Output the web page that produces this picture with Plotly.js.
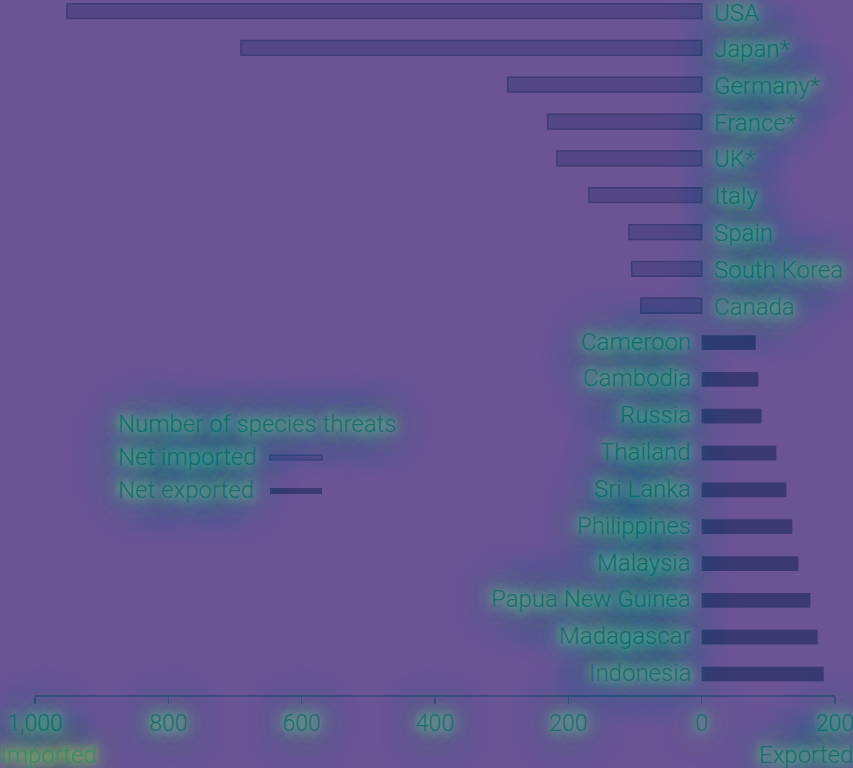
<!DOCTYPE html>
<html>
<head>
<meta charset="utf-8">
<script src="https://cdn.plot.ly/plotly-3.0.1.min.js"></script>
<style>
html,body{margin:0;padding:0;background:#6b5494;}
#chart{width:853px;height:768px;}
</style>
</head>
<body>
<div id="chart"></div>
<script>
// Data
const importCountries = ["USA","Japan*","Germany*","France*","UK*","Italy","Spain","South Korea","Canada"];
const importValues = [952, 691, 291, 231, 217, 169, 109, 105, 91];
const exportCountries = ["Cameroon","Cambodia","Russia","Thailand","Sri Lanka","Philippines","Malaysia","Papua New Guinea","Madagascar","Indonesia"];
const exportValues = [81, 85, 90, 112, 127, 136, 145, 163, 174, 183];
const tickValues = [-1000, -800, -600, -400, -200, 0, 200];
const tickLabels = ["1,000","800","600","400","200","0","200"];

const allCats = importCountries.concat(exportCountries);
const FONT = "Roboto, 'Liberation Sans', Arial, sans-serif";
const TEXT = "#216a6e";
const GLOW = "0 0 8px #64ca89, 0 0 16px #5ec68a, 0 0 26px #57be8d, 0 0 38px #51b291, 0 0 52px #4ca098, 0 0 70px #488c9e";
const GLOW_Y = "0 0 8px #a8d84c, 0 0 16px #96d256, 0 0 26px #80cb66, 0 0 38px #66bf78, 0 0 52px #55a98c, 0 0 70px #4a90a0";
const W = 300;

const traces = [
  {
    type: "bar", orientation: "h",
    y: importCountries, x: importValues.map(v => -v),
    marker: {color: "rgba(55,55,115,0.45)", line: {color: "#3f3c72", width: 1.5}},
    width: 0.4, hoverinfo: "skip", showlegend: false
  },
  {
    type: "bar", orientation: "h",
    y: exportCountries, x: exportValues,
    marker: {color: "#3b3a70", line: {width: 0}},
    width: 0.4, hoverinfo: "skip", showlegend: false
  }
];

const annotations = [];
importCountries.forEach((c, i) => annotations.push({
  x: 0, y: c, xref: "x", yref: "y", text: c, showarrow: false,
  xanchor: "left", xshift: 10, yshift: i === 0 ? -2 : -1,
  font: {family: FONT, size: 24, color: TEXT, weight: W, shadow: GLOW}
}));
exportCountries.forEach(c => annotations.push({
  x: 0, y: c, xref: "x", yref: "y", text: c, showarrow: false,
  xanchor: "right", xshift: -9, yshift: 1,
  font: {family: FONT, size: 24, color: TEXT, weight: W, shadow: GLOW}
}));
// legend
const legendItems = [
  {text: "Number of species threats", y: 424},
  {text: "Net imported", y: 457},
  {text: "Net exported", y: 490}
];
legendItems.forEach(it => annotations.push({
  xref: "paper", yref: "paper", x: (116 - 35) / 800, y: (695 - it.y) / 695,
  xanchor: "left", yanchor: "middle", showarrow: false, text: it.text,
  font: {family: FONT, size: 24, color: TEXT, weight: W, shadow: GLOW}
}));
// axis end labels
annotations.push({
  xref: "paper", yref: "paper", x: -37 / 800, y: (695 - 755) / 695,
  xanchor: "left", yanchor: "middle", showarrow: false, text: "Imported",
  font: {family: FONT, size: 24, color: "#3a8a6a", weight: W, shadow: GLOW_Y}
});
annotations.push({
  xref: "paper", yref: "paper", x: 820 / 800, y: (695 - 755) / 695,
  xanchor: "right", yanchor: "middle", showarrow: false, text: "Exported",
  font: {family: FONT, size: 24, color: TEXT, weight: W, shadow: GLOW}
});

const shapes = [
  {type: "rect", xref: "paper", yref: "paper",
   x0: (270 - 35) / 800, x1: (322 - 35) / 800, y0: (695 - 460) / 695, y1: (695 - 455) / 695,
   fillcolor: "rgba(55,55,115,0.3)", line: {color: "#3f3c72", width: 1.2}},
  {type: "rect", xref: "paper", yref: "paper",
   x0: (270 - 35) / 800, x1: (322 - 35) / 800, y0: (695 - 494) / 695, y1: (695 - 488) / 695,
   fillcolor: "#3b3a70", line: {width: 0}}
];

const layout = {
  width: 853, height: 768,
  margin: {l: 35, r: 18, t: 0, b: 73},
  paper_bgcolor: "#6b5494", plot_bgcolor: "#6b5494",
  showlegend: false,
  barmode: "overlay",
  xaxis: {
    range: [-1000, 200], tickvals: tickValues, ticktext: tickLabels,
    showgrid: false, zeroline: false,
    showline: true, linecolor: "#3e4a7c", linewidth: 1.5,
    ticks: "outside", ticklen: 7, tickcolor: "#3e4a7c", tickwidth: 1.2,
    ticklabeloverflow: "allow",
    tickfont: {family: FONT, size: 23, color: TEXT, weight: W, shadow: GLOW},
    fixedrange: true
  },
  yaxis: {
    type: "category", categoryorder: "array", categoryarray: allCats,
    range: [18.57, -0.3], showticklabels: false, showgrid: false,
    zeroline: false, showline: false, ticks: "", fixedrange: true
  },
  annotations: annotations,
  shapes: shapes
};

Plotly.newPlot("chart", traces, layout, {displayModeBar: false, staticPlot: true});
</script>
</body>
</html>
